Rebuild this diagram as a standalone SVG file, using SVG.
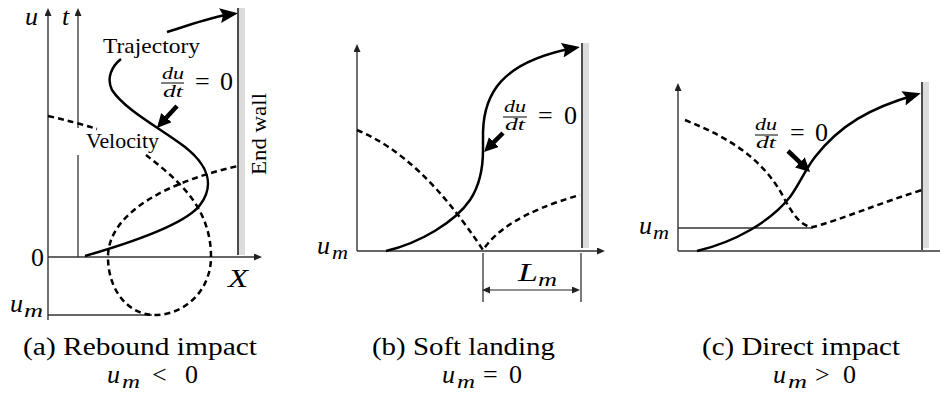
<svg xmlns="http://www.w3.org/2000/svg" width="940" height="398" viewBox="0 0 940 398">
<style>
.ax{stroke:#333;stroke-width:1.4;fill:none}
.thin{stroke:#222;stroke-width:1.2;fill:none}
.wall{stroke:#111;stroke-width:1.5}
.band{fill:#dcdcdc}
.traj{stroke:#000;stroke-width:2.5;fill:none}
.vel{stroke:#000;stroke-width:2.5;fill:none;stroke-dasharray:6 4}
.thk{stroke:#000;stroke-width:4.5;fill:none}
.bar{stroke:#000;stroke-width:1}
text{font-family:"Liberation Serif","Times New Roman",serif;fill:#000}
.mi{font-style:italic;font-size:26px}
.sub{font-style:italic;font-size:18px}
.fr{font-style:italic;font-size:17px}
.rm{font-size:26px}
.lab{font-size:21px}
</style>
<defs>
<marker id="axh" markerUnits="userSpaceOnUse" markerWidth="9" markerHeight="8" refX="5" refY="3.5" orient="auto">
<path d="M0,0 L8,3.5 L0,7 z" fill="#222"/>
</marker>
<marker id="axs" markerUnits="userSpaceOnUse" markerWidth="9" markerHeight="8" refX="3" refY="3.5" orient="auto-start-reverse">
<path d="M0,0 L8,3.5 L0,7 z" fill="#222"/>
</marker>
<marker id="big" markerUnits="userSpaceOnUse" markerWidth="20" markerHeight="16" refX="12" refY="7.5" orient="auto">
<path d="M0,0 L18,7.5 L0,15 L3,7.5 z" fill="#000"/>
</marker>
<marker id="tk" markerUnits="userSpaceOnUse" markerWidth="16" markerHeight="16" refX="4" refY="7" orient="auto">
<path d="M0,0 L14,7 L0,14 z" fill="#000"/>
</marker>
</defs>

<g id="panel-a">
<g id="a-axes">
<rect class="band" x="239" y="8" width="6" height="247"/>
<line class="wall" x1="238" y1="8" x2="238" y2="255"/>
<line class="ax" x1="48" y1="320" x2="48" y2="11" marker-end="url(#axh)"/>
<line class="thin" x1="78" y1="257" x2="78" y2="155"/>
<line class="thin" x1="78" y1="128" x2="78" y2="11" marker-end="url(#axh)"/>
<line class="ax" x1="48" y1="257" x2="259" y2="257" marker-end="url(#axh)"/>
<line class="ax" x1="48" y1="315" x2="152" y2="315"/>
</g>
<g id="a-curves">
<path class="vel" d="M48,116 Q75,122 97,129"/>
<path class="vel" d="M146,155 C175,178 211,205 211,257 C211,290 185,315 155,315 C128,315 108,290 108,257 C108,210 175,180 238,166"/>
<path class="traj" d="M85,256 C130,243 185,225 200,205 C215,185 208,165 185,147 C160,128 125,110 112,90 C106,78 112,66 121,59"/>
<path class="traj" d="M167,32 C190,25 210,17 232,14" marker-end="url(#big)"/>
<line class="thk" x1="177" y1="106" x2="163.7" y2="120.6" marker-end="url(#tk)"/>
</g>
<g id="a-labels">
<text class="mi" x="25" y="25">u</text>
<text class="mi" x="62" y="25">t</text>
<text class="lab" x="103" y="53" textLength="97" lengthAdjust="spacingAndGlyphs">Trajectory</text>
<text class="lab" x="86" y="148" textLength="73" lengthAdjust="spacingAndGlyphs">Velocity</text>
<text class="fr" x="162" y="79" textLength="22" lengthAdjust="spacingAndGlyphs">du</text>
<line class="bar" x1="161" y1="83" x2="184" y2="83"/>
<text class="fr" x="163" y="97" textLength="20" lengthAdjust="spacingAndGlyphs">dt</text>
<text class="rm" x="195" y="90">= <tspan x="220">0</tspan></text>
<text class="lab" transform="translate(266,134) rotate(-90)" text-anchor="middle" textLength="82" lengthAdjust="spacingAndGlyphs">End wall</text>
<text class="rm" x="44" y="266" text-anchor="end">0</text>
<text class="mi" x="228" y="287" textLength="20" lengthAdjust="spacingAndGlyphs">X</text>
<text class="mi" x="10" y="312">u</text>
<text class="sub" x="24" y="317" textLength="19" lengthAdjust="spacingAndGlyphs">m</text>
<text class="rm" x="23" y="355" textLength="234" lengthAdjust="spacingAndGlyphs">(a) Rebound impact</text>
<text class="mi" x="107" y="383">u</text>
<text class="sub" x="122" y="388" textLength="18" lengthAdjust="spacingAndGlyphs">m</text>
<text class="rm" x="152" y="383">&lt; <tspan x="185">0</tspan></text>
</g>
</g>

<g id="panel-b">
<g id="b-axes">
<rect class="band" x="583" y="43" width="6" height="205"/>
<line class="wall" x1="582" y1="43" x2="582" y2="248"/>
<line class="ax" x1="357" y1="251" x2="357" y2="47" marker-end="url(#axh)"/>
<line class="ax" x1="357" y1="251" x2="602" y2="251" marker-end="url(#axh)"/>
</g>
<g id="b-curves">
<path class="vel" d="M357,130 C400,148 440,185 483,250 C495,232 520,212 580,195"/>
<path class="traj" d="M386,251 C420,243 455,222 470,200 C480,185 483,165 483,150 L483,132 C484,95 500,62 574,48" marker-end="url(#big)"/>
<line class="thk" x1="503" y1="133" x2="491.1" y2="144.9" marker-end="url(#tk)"/>
</g>
<g id="b-dimension">
<line class="thin" x1="483" y1="253" x2="483" y2="302"/>
<line class="thin" x1="581" y1="253" x2="581" y2="302"/>
<line class="thin" x1="487" y1="290" x2="577" y2="290" marker-start="url(#axs)" marker-end="url(#axh)"/>
</g>
<g id="b-labels">
<text class="fr" x="504" y="112" textLength="22" lengthAdjust="spacingAndGlyphs">du</text>
<line class="bar" x1="503" y1="117" x2="527" y2="117"/>
<text class="fr" x="505" y="130" textLength="20" lengthAdjust="spacingAndGlyphs">dt</text>
<text class="rm" x="538" y="124">= <tspan x="564">0</tspan></text>
<text class="mi" x="317" y="254">u</text>
<text class="sub" x="332" y="259" textLength="16" lengthAdjust="spacingAndGlyphs">m</text>
<text class="mi" x="518" y="281" textLength="20" lengthAdjust="spacingAndGlyphs">L</text>
<text class="sub" x="538" y="286" textLength="19" lengthAdjust="spacingAndGlyphs">m</text>
<text class="rm" x="372" y="355" textLength="183" lengthAdjust="spacingAndGlyphs">(b) Soft landing</text>
<text class="mi" x="442" y="383">u</text>
<text class="sub" x="457" y="388" textLength="18" lengthAdjust="spacingAndGlyphs">m</text>
<text class="rm" x="483" y="383">= <tspan x="509">0</tspan></text>
</g>
</g>

<g id="panel-c">
<g id="c-axes">
<rect class="band" x="923" y="82" width="6" height="166"/>
<line class="wall" x1="922" y1="82" x2="922" y2="250"/>
<line class="ax" x1="678" y1="251" x2="678" y2="86" marker-end="url(#axh)"/>
<line class="ax" x1="678" y1="251" x2="940" y2="251"/>
<line class="ax" x1="678" y1="228" x2="813" y2="228"/>
</g>
<g id="c-curves">
<path class="vel" d="M685,120 C730,138 765,160 785,200 C795,218 803,227 813,227 C840,220 880,203 922,190"/>
<path class="traj" d="M697,251 C735,242 770,222 790,197 C800,183 805,170 815,157 C840,125 870,108 915,95" marker-end="url(#big)"/>
<line class="thk" x1="788" y1="151" x2="802.8" y2="165.1" marker-end="url(#tk)"/>
</g>
<g id="c-labels">
<text class="fr" x="755" y="130" textLength="22" lengthAdjust="spacingAndGlyphs">du</text>
<line class="bar" x1="755" y1="135" x2="778" y2="135"/>
<text class="fr" x="756" y="148" textLength="20" lengthAdjust="spacingAndGlyphs">dt</text>
<text class="rm" x="790" y="141">= <tspan x="815">0</tspan></text>
<text class="mi" x="639" y="234">u</text>
<text class="sub" x="653" y="239" textLength="16" lengthAdjust="spacingAndGlyphs">m</text>
<text class="rm" x="702" y="355" textLength="198" lengthAdjust="spacingAndGlyphs">(c) Direct impact</text>
<text class="mi" x="773" y="383">u</text>
<text class="sub" x="788" y="388" textLength="19" lengthAdjust="spacingAndGlyphs">m</text>
<text class="rm" x="815" y="383">&gt; <tspan x="843">0</tspan></text>
</g>
</g>
</svg>
